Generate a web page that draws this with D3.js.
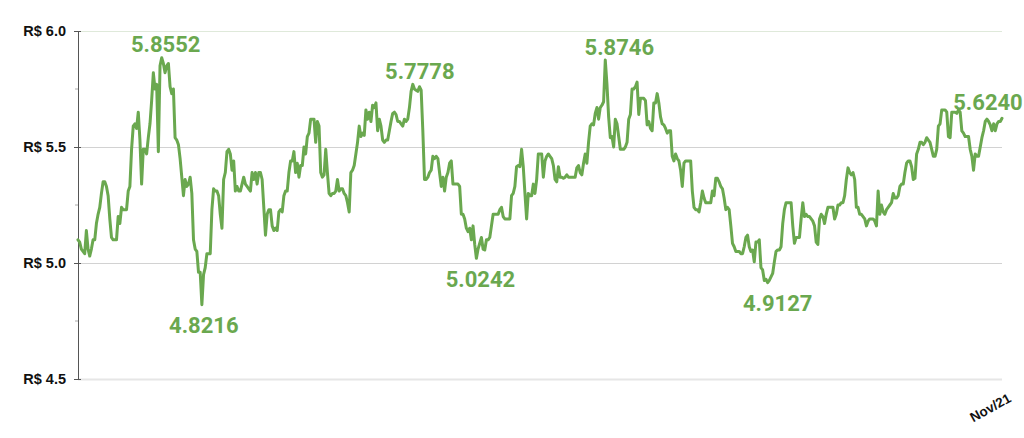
<!DOCTYPE html>
<html><head><meta charset="utf-8">
<script src="https://cdn.jsdelivr.net/npm/d3@7"></script>
<style>
html,body{margin:0;padding:0;background:#fff;}
svg{display:block;}
</style></head>
<body>
<svg id="chart" width="1024" height="438"></svg>
<script>
// ---- data ----
const yTickValues = [4.5, 5.0, 5.5, 6.0];
const yMinorTicks = [4.75, 5.25, 5.75];
const xTickLabels = ["Nov/21"];
const rates = [
5.10,5.09,5.06,5.05,5.04,5.14,5.06,5.03,5.06,5.10,
5.10,5.17,5.21,5.24,5.30,5.35,5.35,5.33,5.29,5.19,
5.11,5.10,5.10,5.10,5.20,5.17,5.24,5.23,5.23,5.23,
5.31,5.33,5.49,5.59,5.60,5.58,5.65,5.53,5.34,5.49,
5.49,5.47,5.54,5.60,5.70,5.82,5.75,5.77,5.48,5.85,
5.885,5.86,5.82,5.85,5.86,5.76,5.73,5.75,5.54,5.53,
5.51,5.45,5.37,5.29,5.36,5.33,5.34,5.37,5.30,5.10,
5.06,5.05,4.96,4.96,4.82,4.95,4.98,5.04,5.04,5.04,
5.23,5.32,5.31,5.31,5.29,5.21,5.15,5.36,5.39,5.48,
5.49,5.47,5.40,5.44,5.31,5.33,5.31,5.31,5.34,5.37,
5.34,5.33,5.32,5.31,5.39,5.36,5.39,5.34,5.39,5.39,
5.36,5.24,5.12,5.21,5.23,5.23,5.16,5.14,5.15,5.14,
5.22,5.23,5.22,5.29,5.31,5.31,5.39,5.44,5.44,5.48,
5.39,5.43,5.37,5.42,5.42,5.50,5.47,5.545,5.56,5.62,
5.62,5.62,5.52,5.61,5.59,5.39,5.37,5.38,5.49,5.39,
5.30,5.29,5.30,5.30,5.31,5.36,5.31,5.32,5.32,5.30,
5.29,5.26,5.22,5.39,5.40,5.42,5.47,5.52,5.59,5.545,
5.56,5.55,5.66,5.62,5.65,5.61,5.68,5.67,5.69,5.57,
5.62,5.59,5.53,5.52,5.53,5.53,5.57,5.61,5.645,5.65,
5.64,5.61,5.61,5.60,5.59,5.62,5.61,5.62,5.67,5.74,
5.77,5.75,5.745,5.74,5.76,5.745,5.57,5.36,5.36,5.37,
5.39,5.40,5.46,5.45,5.46,5.45,5.39,5.33,5.37,5.31,
5.37,5.39,5.43,5.44,5.34,5.34,5.34,5.34,5.33,5.21,
5.21,5.19,5.15,5.135,5.15,5.10,5.16,5.08,5.02,5.06,
5.085,5.11,5.06,5.056,5.10,5.10,5.11,5.16,5.21,5.21,
5.21,5.21,5.23,5.24,5.20,5.19,5.19,5.19,5.19,5.29,
5.30,5.33,5.415,5.42,5.415,5.49,5.415,5.30,5.19,5.30,
5.29,5.29,5.34,5.30,5.36,5.47,5.47,5.47,5.37,5.44,
5.46,5.47,5.46,5.45,5.42,5.36,5.35,5.415,5.37,5.37,
5.365,5.37,5.38,5.37,5.37,5.37,5.37,5.37,5.41,5.42,
5.39,5.38,5.43,5.47,5.43,5.52,5.59,5.60,5.595,5.645,
5.67,5.62,5.67,5.68,5.695,5.875,5.77,5.63,5.54,5.545,
5.50,5.62,5.60,5.545,5.49,5.49,5.49,5.50,5.52,5.62,
5.64,5.75,5.75,5.76,5.78,5.64,5.71,5.71,5.71,5.70,
5.595,5.61,5.58,5.57,5.69,5.69,5.73,5.69,5.63,5.60,
5.595,5.58,5.56,5.57,5.57,5.46,5.44,5.47,5.45,5.44,
5.40,5.33,5.43,5.44,5.44,5.44,5.44,5.31,5.24,5.23,
5.23,5.22,5.26,5.31,5.28,5.26,5.26,5.26,5.26,5.31,
5.29,5.365,5.365,5.35,5.33,5.32,5.28,5.23,5.24,5.23,
5.16,5.085,5.07,5.05,5.05,5.05,5.04,5.04,5.07,5.11,
5.12,5.07,5.05,5.056,5.005,5.09,5.09,5.10,4.98,4.97,
4.925,4.93,4.915,4.925,4.94,4.955,5.005,5.05,5.056,5.056,
5.07,5.17,5.23,5.26,5.26,5.26,5.26,5.16,5.085,5.11,
5.11,5.11,5.19,5.26,5.20,5.21,5.20,5.20,5.19,5.18,
5.16,5.09,5.08,5.19,5.21,5.20,5.17,5.21,5.24,5.24,
5.24,5.24,5.19,5.21,5.25,5.25,5.26,5.26,5.29,5.36,
5.41,5.39,5.38,5.39,5.36,5.24,5.24,5.21,5.21,5.20,
5.19,5.16,5.18,5.19,5.19,5.19,5.18,5.16,5.31,5.21,
5.25,5.22,5.21,5.23,5.24,5.25,5.26,5.30,5.28,5.28,
5.29,5.33,5.34,5.34,5.39,5.43,5.44,5.44,5.415,5.36,
5.365,5.47,5.49,5.52,5.52,5.51,5.52,5.54,5.53,5.52,
5.49,5.46,5.46,5.49,5.59,5.60,5.66,5.66,5.66,5.65,
5.545,5.54,5.65,5.65,5.65,5.645,5.66,5.65,5.57,5.56,
5.545,5.545,5.545,5.49,5.46,5.40,5.47,5.46,5.46,5.50,
5.54,5.57,5.61,5.62,5.61,5.595,5.57,5.60,5.57,5.60,
5.61,5.61,5.624
];
// annotated extremes: label text and index of the point it refers to
const annotationTexts = ["5.8552","4.8216","5.7778","5.0242","5.8746","4.9127","5.6240"];
const annotationIndex = [50, 74, 200, 238, 315, 412, 552];

// ---- layout ----
const M = {left: 78, right: 1002, top: 31, bottom: 379};
const labelDx = [4, 2, 7, 4, 14, 10, -14];
const labelDy = [-5.5, 28, -5.5, 28.5, -5, 28.5, -8];

const svg = d3.select("#chart");
const x = d3.scaleLinear().domain([0, rates.length - 1]).range([M.left, M.right]);
const y = d3.scaleLinear().domain([4.5, 6.0]).range([M.bottom, M.top]);

// gridlines
const gridColor = v => v === 6.0 ? "#dfe9da" : (v === 4.5 ? "#e6e6e6" : "#d2d2d2");
svg.append("g").selectAll("line").data(yTickValues).join("line")
  .attr("x1", M.left).attr("x2", M.right)
  .attr("y1", d => y(d) + 0.5).attr("y2", d => y(d) + 0.5)
  .attr("stroke", d => gridColor(d))
  .attr("stroke-width", d => d === 4.5 ? 2 : 1);

// y axis
const yAxis = d3.axisLeft(y).tickValues(yTickValues)
  .tickFormat(d => "R$ " + d.toFixed(1))
  .tickSizeInner(4).tickSizeOuter(0).tickPadding(8);
const ga = svg.append("g").attr("transform", `translate(${M.left},0)`).call(yAxis);
ga.select(".domain").attr("stroke", "#555").attr("stroke-width", 1);
ga.selectAll(".tick line").attr("stroke", "#555").attr("x2", -4).attr("x1", 3);
ga.selectAll(".tick text")
  .attr("fill", "#111")
  .style("font-family", "'Liberation Sans', Arial, sans-serif")
  .style("font-weight", "bold")
  .style("font-size", "14.5px");
// minor ticks
svg.append("g").selectAll("line").data(yMinorTicks).join("line")
  .attr("x1", M.left - 3).attr("x2", M.left)
  .attr("y1", d => y(d)).attr("y2", d => y(d))
  .attr("stroke", "#aaa").attr("stroke-width", 1);

// x label (last point)
svg.append("g").selectAll("text").data(xTickLabels).join("text")
  .attr("transform", `translate(${x(rates.length - 1) + 10},${M.bottom + 22}) rotate(-29)`)
  .attr("text-anchor", "end")
  .style("font-family", "'Liberation Sans', Arial, sans-serif")
  .style("font-weight", "bold")
  .style("font-size", "13.5px")
  .attr("fill", "#111")
  .text(d => d);

// line
const line = d3.line().x((d, i) => x(i)).y(d => y(d));
svg.append("path").datum(rates)
  .attr("d", line)
  .attr("fill", "none")
  .attr("stroke", "#6aa84f")
  .attr("stroke-width", 3)
  .attr("stroke-linejoin", "round")
  .attr("stroke-linecap", "round");

// annotations
svg.append("g").selectAll("text").data(annotationTexts).join("text")
  .attr("x", (d, k) => x(annotationIndex[k]) + labelDx[k])
  .attr("y", (d, k) => y(rates[annotationIndex[k]]) + labelDy[k])
  .attr("text-anchor", "middle")
  .style("font-family", "Roboto, 'Noto Sans', sans-serif")
  .style("font-weight", "bold")
  .style("font-size", "22px")
  .attr("fill", "#6aa84f")
  .text(d => d);
</script>
</body></html>
